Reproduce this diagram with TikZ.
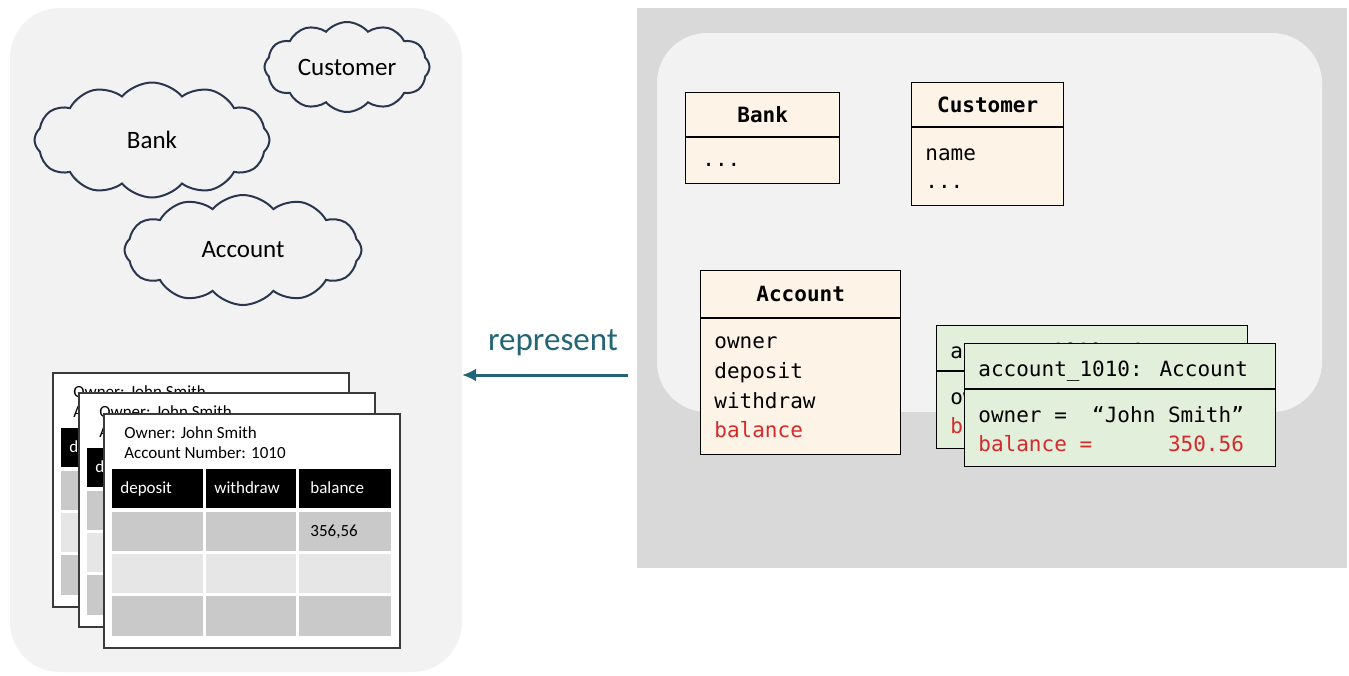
\documentclass[tikz,border=0pt]{standalone}
\usepackage{fontspec}
\setmainfont{Carlito}
\newfontfamily\codefont{DejaVu Sans Mono}
\usetikzlibrary{shapes.symbols,arrows.meta,calc}

\definecolor{panelgray}{HTML}{F2F2F2}
\definecolor{modelgray}{HTML}{D9D9D9}
\definecolor{cream}{HTML}{FDF3E7}
\definecolor{mint}{HTML}{E2EFDA}
\definecolor{attrred}{HTML}{D42A2A}
\definecolor{teal}{HTML}{236577}
\definecolor{cloudline}{HTML}{2A3650}
\definecolor{cardline}{HTML}{3A3A3A}
\definecolor{celldark}{HTML}{C9C9C9}
\definecolor{celllight}{HTML}{E6E6E6}

\tikzset{
  cloudnode/.style={cloud, cloud puffs=12, cloud puff arc=100, draw=cloudline,
    line width=1pt, inner sep=0pt, font=\fontsize{12.5}{15}\selectfont},
  cardbox/.style={anchor=north west, draw=cardline, fill=white, line width=1pt,
    minimum width=148pt, minimum height=117pt, inner sep=0pt},
  cardtext/.style={anchor=base west, inner sep=0pt, font=\fontsize{8.5}{10}\selectfont},
  headtext/.style={cardtext, text=white},
  umlbox/.style={anchor=north west, draw=black, line width=0.7pt, fill=cream, inner sep=0pt},
  objbox/.style={umlbox, fill=mint},
  umltitle/.style={inner sep=0pt, font=\codefont\bfseries\fontsize{10.5}{12}\selectfont},
  umltext/.style={anchor=base west, inner sep=0pt, font=\codefont\fontsize{10.5}{12}\selectfont},
  redtext/.style={umltext, text=attrred},
}

% one paper ledger card: name, x, y of its top left corner
\newcommand\ledgercard[3]{%
  \begin{scope}[shift={(#2,#3)}]
    \node[cardbox] (#1) at (0,0) {};
    \foreach \xa/\xb in {9/100,103/193,196/288}{
      \fill[black]     (\xa,56)  rectangle (\xb,95);
      \fill[celldark]  (\xa,99)  rectangle (\xb,138);
      \fill[celllight] (\xa,141) rectangle (\xb,180);
      \fill[celldark]  (\xa,183) rectangle (\xb,223);
    }
    \node[cardtext] (#1-owner) at (21,25) {Owner: John Smith};
    \node[cardtext] (#1-number) at (21,45) {Account Number: 1010};
    \node[headtext] (#1-deposit) at (17,80) {deposit};
    \node[headtext] (#1-withdraw) at (111,80) {withdraw};
    \node[headtext] (#1-balance) at (207,80) {balance};
    \node[cardtext] (#1-value) at (207,123) {356,56};
  \end{scope}}

% one object box: name, x, y of its top left corner
\newcommand\objectbox[3]{%
  \node[objbox, minimum width=155.5pt, minimum height=61.5pt] (#1) at (#2,#3) {};
  \draw[line width=0.7pt] ($(#1.north west)+(0,46)$) -- ($(#1.north east)+(0,46)$);
  \node[umltext] (#1-head) at ($(#1.north west)+(14,33)$) {account\char`\_1010: Account};
  \node[umltext] (#1-owner) at ($(#1.north west)+(14,79)$) {owner =\ \ “John Smith”};
  \node[redtext] (#1-balance) at ($(#1.north west)+(14,108)$) {balance =\ \ \ \ \ \ 350.56};}

\begin{document}
\begin{tikzpicture}[x=0.5pt,y=-0.5pt]
  \useasboundingbox (0,0) rectangle (1349,675);
  \fill[white] (0,0) rectangle (1349,675);

  % real world panel
  \fill[panelgray, rounded corners=25pt] (10,8) rectangle (462,672);

  % model panel
  \fill[modelgray] (637,8) rectangle (1347,568);
  \fill[panelgray, rounded corners=25pt] (657,33) rectangle (1322,412);

  % concepts as clouds
  \node[cloudnode, aspect=1.85, minimum width=82.5pt, minimum height=45pt] (custcloud) at (347,67) {Customer};
  \node[cloudnode, aspect=2.05, minimum width=117.5pt, minimum height=57.5pt] (bankcloud) at (152,140) {Bank};
  \node[cloudnode, aspect=2.15, minimum width=118.5pt, minimum height=55pt] (acctcloud) at (243,250) {Account};

  % stack of paper ledger cards
  \ledgercard{cardA}{52}{372}
  \ledgercard{cardB}{78}{392}
  \ledgercard{cardC}{103}{413}

  % represent arrow
  \coordinate (modeledge) at (628,375);
  \coordinate (worldedge) at (462,375);
  \draw[teal, line width=1.5pt, -{Latex[length=7pt,width=6.5pt]}] (modeledge) -- (worldedge);
  \node[text=teal, font=\fontsize{16.5}{18}\selectfont, inner sep=0pt] (represent) at (553,343) {represent};

  % classes
  \node[umlbox, minimum width=77pt, minimum height=45.5pt] (bank) at (685,92) {};
  \draw[line width=0.7pt] ($(bank.north west)+(0,45)$) -- ($(bank.north east)+(0,45)$);
  \node[umltitle] (bank-title) at ($(bank.north)+(0,23)$) {Bank};
  \node[umltext] (bank-dots) at ($(bank.north west)+(17,74)$) {...};

  \node[umlbox, minimum width=76pt, minimum height=61.5pt] (customer) at (911,82) {};
  \draw[line width=0.7pt] ($(customer.north west)+(0,45)$) -- ($(customer.north east)+(0,45)$);
  \node[umltitle] (customer-title) at ($(customer.north)+(0,23)$) {Customer};
  \node[umltext] (customer-name) at ($(customer.north west)+(14,78)$) {name};
  \node[umltext] (customer-dots) at ($(customer.north west)+(14,106)$) {...};

  \node[umlbox, minimum width=100pt, minimum height=92pt] (account) at (700,270) {};
  \draw[line width=0.7pt] ($(account.north west)+(0,48)$) -- ($(account.north east)+(0,48)$);
  \node[umltitle] (account-title) at ($(account.north)+(0,24)$) {Account};
  \node[umltext] (account-owner) at ($(account.north west)+(14,78)$) {owner};
  \node[umltext] (account-deposit) at ($(account.north west)+(14,108)$) {deposit};
  \node[umltext] (account-withdraw) at ($(account.north west)+(14,138)$) {withdraw};
  \node[redtext] (account-balance) at ($(account.north west)+(14,167)$) {balance};

  % objects
  \objectbox{objback}{936}{325}
  \objectbox{objfront}{964}{343}
\end{tikzpicture}
\end{document}
